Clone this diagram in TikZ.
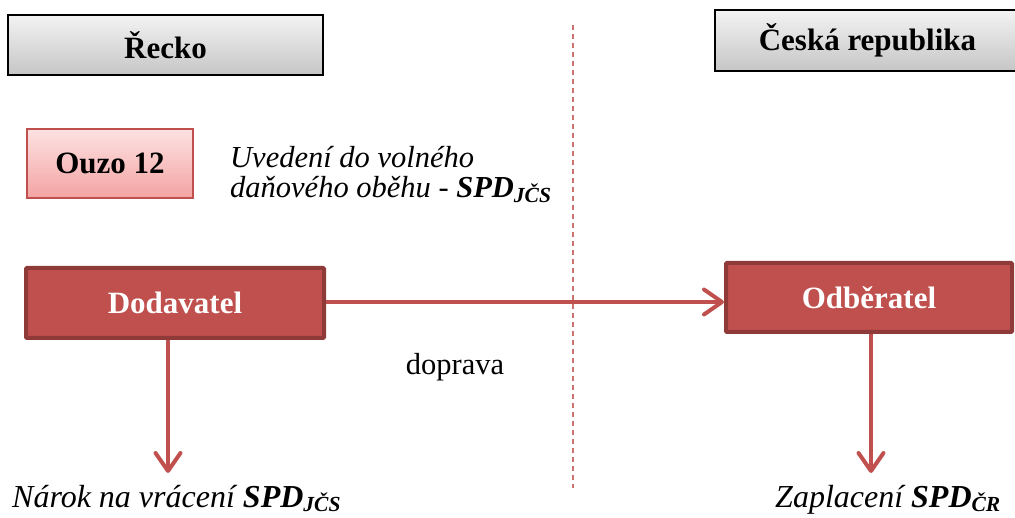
\documentclass[tikz,border=0pt]{standalone}
\usepackage{fontspec}
\setmainfont{Liberation Serif}
\usetikzlibrary{arrows.meta}
\definecolor{accent}{HTML}{C0504D}
\definecolor{accentdark}{HTML}{8E3A38}
\definecolor{pinktop}{HTML}{FDE2E2}
\definecolor{pinkbot}{HTML}{F3A3A2}
\definecolor{graytop}{HTML}{F3F3F3}
\definecolor{graybot}{HTML}{C6C6C6}
\newcommand\subtx[1]{\raisebox{-0.15em}{\fontsize{21.5}{21.5}\selectfont #1}}
\tikzset{
  country/.style={draw=black, line width=1.6pt, top color=graytop, bottom color=graybot,
    inner sep=0pt, font=\fontsize{31}{31}\selectfont\bfseries},
  goodbox/.style={draw=accent, line width=1.4pt, top color=pinktop, bottom color=pinkbot,
    inner sep=0pt, font=\fontsize{31}{31}\selectfont\bfseries},
  party/.style={draw=accentdark, line width=4pt, fill=accent, text=white, rounded corners=1pt,
    inner sep=0pt, font=\fontsize{31}{31}\selectfont\bfseries},
  note/.style={inner sep=0pt, font=\fontsize{30.5}{30}\selectfont\itshape},
  bignote/.style={inner sep=0pt, font=\fontsize{32}{32}\selectfont\itshape},
  plain/.style={inner sep=0pt, font=\fontsize{30.5}{30}\selectfont},
  flow/.style={draw=accent, line width=4pt,
    -{Straight Barb[length=18pt,width=25pt,round]}},
  border/.style={draw=accent!80, line width=2pt, dash pattern=on 5pt off 4pt}
}
\begin{document}
\begin{tikzpicture}[x=1pt,y=-1pt]
\useasboundingbox (0,0) rectangle (1015,518);
\begin{scope}
\clip (0,0) rectangle (1015,518);

% border between the two countries
\coordinate (bt) at (573,25);
\coordinate (bb) at (573,488);
\draw[border] (bt) -- (bb);

% country headers
\node[country, minimum width=315pt, minimum height=60pt] (gr) at (165.5,45) {Řecko};
\node[country, minimum width=305pt, minimum height=61pt] (cz) at (867.5,40.5) {Česká republika};

% product
\node[goodbox, minimum width=166pt, minimum height=69pt] (ouzo) at (110,163.5) {Ouzo 12};
\node[note, anchor=base west] (uv1) at (230,168) {Uvedení do volného};
\node[note, anchor=base west] (uv2) at (230,198) {daňového oběhu - \textbf{SPD\subtx{JČS}}};

% trading parties
\node[party, minimum width=298pt, minimum height=70pt] (dod) at (175,303) {Dodavatel};
\node[party, minimum width=286pt, minimum height=69pt] (odb) at (869,297.5) {Odběratel};

% transport
\draw[flow] (dod.east |- 0,302) -- (odb.west |- 0,302);
\node[plain, anchor=base] (dop) at (455,375) {doprava};

% consequences for each party
\coordinate (ldn) at (168,473);
\coordinate (rdn) at (871,473);
\draw[flow] (dod.south -| ldn) -- (ldn);
\draw[flow] (odb.south -| rdn) -- (rdn);
\node[bignote, anchor=base west] (narok) at (12,507) {Nárok na vrácení \textbf{SPD\subtx{JČS}}};
\node[bignote, anchor=base west] (zapl) at (775,507) {Zaplacení \textbf{SPD\subtx{ČR}}};
\end{scope}
\end{tikzpicture}
\end{document}
